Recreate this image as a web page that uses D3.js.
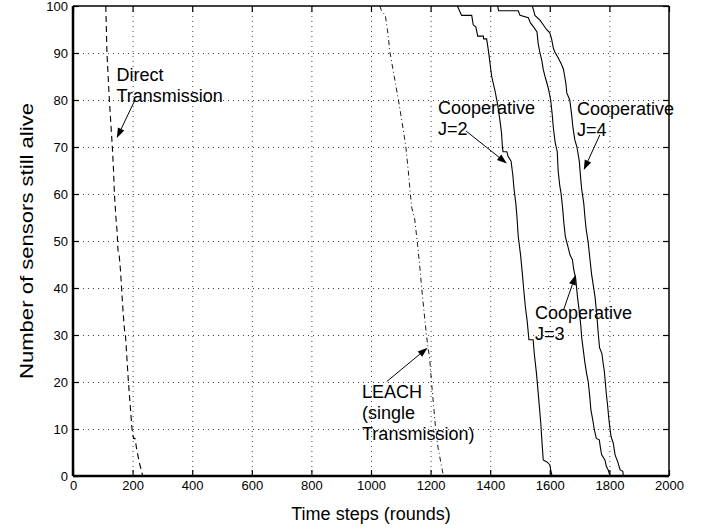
<!DOCTYPE html>
<html><head><meta charset="utf-8">
<script src="https://cdn.jsdelivr.net/npm/d3@7"></script>
<style>
html,body{margin:0;padding:0;background:#fff;}
svg{display:block;font-family:"Liberation Sans",Arial,Helvetica,sans-serif;}
</style></head>
<body><svg id="c" width="709" height="529"></svg>
<script>
// ---- data ----
const xTicks = [0,200,400,600,800,1000,1200,1400,1600,1800,2000];
const yTicks = [0,10,20,30,40,50,60,70,80,90,100];
const xLabel = "Time steps (rounds)";
const yLabel = "Number of sensors still alive";

const directTx = [[110,100],[112,95],[114,90],[118,85],[122,80],[127,75],[132,70],[136,65],[139,60],[144,55],[148,52],[151,48],[155,47],[159,44],[163,40],[168,35],[173,31],[176,30],[181,25],[186,20],[192,15],[198,10],[203,8],[208,8],[213,6],[222,3],[234,0]];
const leach = [[1030,100],[1035,99],[1048,98],[1055,95],[1064,90],[1078,85],[1092,80],[1105,75],[1117,70],[1125,65],[1132,60],[1137,57],[1141,56],[1146,55],[1155,50],[1163,45],[1170,40],[1178,35],[1186,30],[1192,27],[1197,25],[1203,20],[1210,15],[1217,10],[1225,6],[1234,3],[1243,0]];
const coopJ2 = [[1290,100],[1297,99],[1304,98],[1338,98],[1343,96],[1352,95.5],[1358,93.6],[1377,93.6],[1378,93],[1388,93],[1394,90.5],[1399,88],[1405,85],[1416,82],[1425,79],[1432,76],[1438,73],[1441,70],[1443,69],[1456,69],[1460,68],[1470,67],[1476,64],[1480,61],[1486,58],[1490,55],[1494,51],[1502,47],[1508,43],[1512,40],[1518,36],[1524,33],[1530,29],[1544,29],[1548,26],[1555,22],[1562,17],[1570,11],[1574,7],[1578,3.4],[1590,3],[1600,2.4],[1604,1],[1608,0]];
const coopJ3 = [[1425,100],[1428,99],[1494,99],[1500,98],[1528,97.5],[1535,96.4],[1546,95.5],[1557,94.5],[1561,92],[1567,90],[1573,88.5],[1578,86.5],[1584,85],[1595,82.5],[1603,80],[1608,77],[1612,74],[1618,71],[1625,69],[1628,65],[1633,62],[1638,60],[1643,57],[1647,54],[1652,51],[1660,49],[1668,47],[1676,46],[1680,44],[1687,42],[1693,38],[1699,35],[1704,32],[1707,29.5],[1712,27],[1718,24],[1723,22],[1729,20],[1734,17],[1738,14],[1744,12],[1749,10],[1756,8],[1766,7.7],[1770,6],[1774,4.5],[1785,3.4],[1790,2],[1796,1.3],[1802,0]];
const coopJ4 = [[1541,100],[1546,99],[1550,98],[1567,97],[1578,96],[1589,95],[1600,94.3],[1606,93],[1612,91],[1617,90.2],[1628,89],[1639,87.6],[1646,86.5],[1650,85],[1654,83.5],[1657,81.5],[1667,80],[1673,77],[1678,74],[1684,71.5],[1691,70],[1699,67],[1704,63],[1707,61],[1714,58],[1718,55],[1722,52.5],[1729,49.6],[1735,46],[1740,43],[1752,38],[1758,34],[1763,30],[1767,27.3],[1775,26],[1779,24],[1783,22.3],[1790,17.3],[1794,15],[1798,12.2],[1805,8.6],[1809,7.7],[1813,7],[1819,4.5],[1828,3],[1836,1.3],[1845,1],[1847,0]];

const annText = [
  ["Direct","Transmission"],
  ["Cooperative","J=2"],
  ["Cooperative","J=4"],
  ["Cooperative","J=3"],
  ["LEACH","(single","Transmission)"]
];
const annAnchor = [[146,84.1],[1225,77],[1691,76.8],[1550,33.5],[970,16.6]];
const annTail = [[208,80],[1319,73.4],[1768,72.6],[1646,35.3],[1053,20.1]];
const annTip  = [[147,71.9],[1456,66.5],[1714,65.1],[1687,42.8],[1190,27.3]];

// ---- layout ----
const svg = d3.select("#c");
const L=73, R=669, T=6, B=476;
const x = d3.scaleLinear().domain([0,2000]).range([L,R]);
const y = d3.scaleLinear().domain([0,100]).range([B,T]);

// grid
const g = svg.append("g");
g.selectAll(".gx").data(xTicks.slice(1,-1)).join("line")
  .attr("x1",d=>x(d)+0.5).attr("x2",d=>x(d)+0.5).attr("y1",T).attr("y2",B)
  .attr("stroke","#444").attr("stroke-width",1).attr("stroke-dasharray","1,4");
g.selectAll(".gy").data(yTicks.slice(1,-1)).join("line")
  .attr("y1",d=>y(d)+0.5).attr("y2",d=>y(d)+0.5).attr("x1",L).attr("x2",R)
  .attr("stroke","#444").attr("stroke-width",1).attr("stroke-dasharray","1,4");

// axes
const ax = d3.axisBottom(x).tickValues(xTicks).tickSize(-6).tickPadding(5).tickFormat(d3.format("d"));
const ay = d3.axisLeft(y).tickValues(yTicks).tickSize(-6).tickPadding(5).tickFormat(d3.format("d"));
const axT = d3.axisTop(x).tickValues(xTicks).tickSize(-6).tickFormat("");
const ayR = d3.axisRight(y).tickValues(yTicks).tickSize(-6).tickFormat("");
function style(sel, w){
  sel.select(".domain").attr("stroke","#000").attr("stroke-width",w);
  sel.selectAll(".tick line").attr("stroke","#000").attr("stroke-width",1.2);
  sel.selectAll(".tick text").attr("fill","#000").attr("font-size","13px")
     .attr("font-family","'Liberation Sans',Arial,sans-serif");
}
style(svg.append("g").attr("transform",`translate(0,${T})`).call(axT).call(s=>s.select(".domain").attr("d",`M${L},0H${R}`)),1.5);
style(svg.append("g").attr("transform",`translate(${R},0)`).call(ayR).call(s=>s.select(".domain").attr("d",`M0,${T}V${B}`)),1.5);
style(svg.append("g").attr("transform",`translate(0,${B})`).call(ax).call(s=>s.select(".domain").attr("d",`M${L},0H${R}`)),2.5);
style(svg.append("g").attr("transform",`translate(${L},0)`).call(ay).call(s=>s.select(".domain").attr("d",`M0,${T}V${B}`)),2.5);

// lines
const line = d3.line().x(d=>x(d[0])).y(d=>y(d[1]));
const series = [
  [directTx,"6,4",1.1],
  [leach,"5,3,1,3",0.9],
  [coopJ2,null,1.1],
  [coopJ3,null,1.1],
  [coopJ4,null,1.1]
];
series.forEach(([d,dash,w])=>{
  svg.append("path").attr("d",line(d)).attr("fill","none").attr("stroke","#000")
    .attr("stroke-width",w).attr("stroke-dasharray",dash);
});

// annotations
annText.forEach((lines,i)=>{
  const t = svg.append("text").attr("x",x(annAnchor[i][0])).attr("y",y(annAnchor[i][1]))
    .attr("font-size","18px").attr("fill","#000");
  lines.forEach((s,j)=>t.append("tspan").attr("x",x(annAnchor[i][0])).attr("dy",j?21:0).text(s));
  const x1=x(annTail[i][0]), y1=y(annTail[i][1]), x2=x(annTip[i][0]), y2=y(annTip[i][1]);
  const ang=Math.atan2(y2-y1,x2-x1), hl=10, hw=3.5;
  const bx=x2-hl*Math.cos(ang), by=y2-hl*Math.sin(ang);
  svg.append("line").attr("x1",x1).attr("y1",y1).attr("x2",bx).attr("y2",by)
    .attr("stroke","#000").attr("stroke-width",1);
  svg.append("path").attr("d",`M${x2},${y2}L${bx+hw*Math.sin(ang)},${by-hw*Math.cos(ang)}L${bx-hw*Math.sin(ang)},${by+hw*Math.cos(ang)}Z`)
    .attr("fill","#000");
});

// axis titles
svg.append("text").attr("x",(L+R)/2).attr("y",520).attr("text-anchor","middle")
  .attr("font-size","18px").text(xLabel);
svg.append("text").attr("transform",`translate(33,${(T+B)/2}) rotate(-90)`).attr("text-anchor","middle")
  .attr("font-size","19px").attr("textLength",276).attr("lengthAdjust","spacingAndGlyphs").text(yLabel);
</script></body></html>
